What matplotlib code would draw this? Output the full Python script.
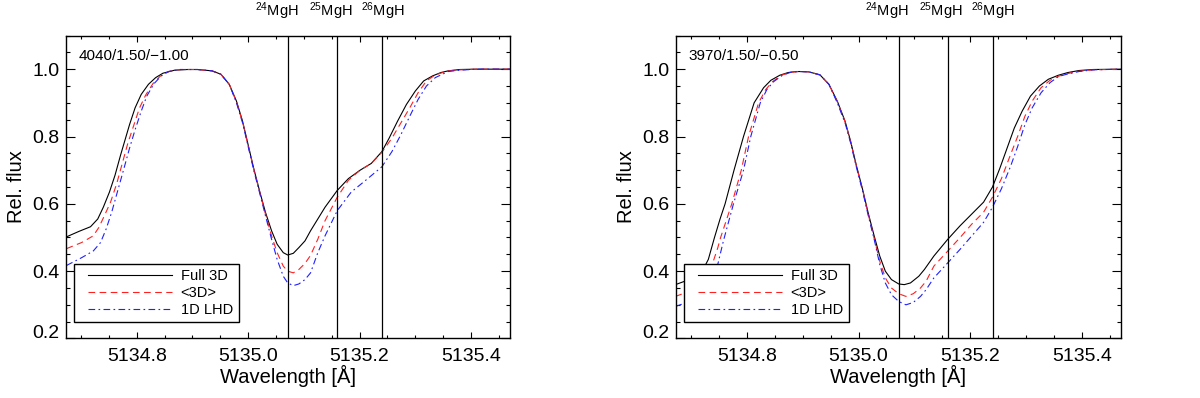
import matplotlib
matplotlib.use("Agg")
import matplotlib.pyplot as plt
from matplotlib.lines import Line2D
from matplotlib.legend_handler import HandlerLine2D
from matplotlib.ticker import MultipleLocator

plt.rcParams['font.family'] = ['Liberation Sans', 'DejaVu Sans']
plt.rcParams['mathtext.fontset'] = 'custom'
plt.rcParams['mathtext.rm'] = 'Liberation Sans'
plt.rcParams['mathtext.it'] = 'Liberation Sans'

# ---------------- data ----------------
panel_labels = ["4040/1.50/\u22121.00", "3970/1.50/\u22120.50"]
series_names = ["Full 3D", "<3D>", "1D LHD"]
line_positions = [5135.072, 5135.160, 5135.240]
line_names = [r"$^{24}$MgH", r"$^{25}$MgH", r"$^{26}$MgH"]
x_ticks = [5134.8, 5135.0, 5135.2, 5135.4]
y_ticks = [0.2, 0.4, 0.6, 0.8, 1.0]

# left panel
wl_a_full = [5134.674, 5134.696, 5134.717, 5134.730, 5134.740, 5134.751, 5134.761, 5134.771, 5134.779,
             5134.787, 5134.797, 5134.808, 5134.821, 5134.834, 5134.847, 5134.868, 5134.891, 5134.909,
             5134.935, 5134.951, 5134.966, 5134.979, 5134.990, 5135.000, 5135.010, 5135.021, 5135.031,
             5135.042, 5135.052, 5135.063, 5135.071, 5135.081, 5135.091, 5135.102, 5135.112, 5135.125,
             5135.138, 5135.160, 5135.180, 5135.201, 5135.221, 5135.240, 5135.253, 5135.268, 5135.284,
             5135.300, 5135.315, 5135.331, 5135.346, 5135.359, 5135.380, 5135.410, 5135.470]
fl_a_full = [0.502, 0.518, 0.532, 0.555, 0.590, 0.635, 0.685, 0.745, 0.790,
             0.835, 0.885, 0.925, 0.955, 0.975, 0.988, 0.997, 0.999, 0.999,
             0.995, 0.985, 0.955, 0.905, 0.845, 0.775, 0.705, 0.635, 0.575,
             0.520, 0.480, 0.455, 0.448, 0.453, 0.470, 0.490, 0.520, 0.555,
             0.590, 0.640, 0.675, 0.700, 0.720, 0.755, 0.795, 0.845, 0.895,
             0.935, 0.965, 0.980, 0.990, 0.995, 0.999, 1.000, 1.000]

wl_a_mean = [5134.674, 5134.701, 5134.722, 5134.732, 5134.742, 5134.753, 5134.764, 5134.774, 5134.784,
             5134.795, 5134.805, 5134.816, 5134.829, 5134.842, 5134.857, 5134.878, 5134.891, 5134.909,
             5134.935, 5134.951, 5134.966, 5134.979, 5134.990, 5135.000, 5135.010, 5135.021, 5135.031,
             5135.042, 5135.052, 5135.063, 5135.071, 5135.081, 5135.091, 5135.102, 5135.112, 5135.125,
             5135.138, 5135.160, 5135.180, 5135.201, 5135.221, 5135.240, 5135.258, 5135.274, 5135.290,
             5135.305, 5135.320, 5135.336, 5135.359, 5135.380, 5135.410, 5135.470]
fl_a_mean = [0.467, 0.485, 0.505, 0.530, 0.565, 0.605, 0.660, 0.720, 0.780,
             0.835, 0.885, 0.923, 0.957, 0.979, 0.993, 0.999, 0.999, 0.999,
             0.995, 0.985, 0.955, 0.903, 0.843, 0.773, 0.703, 0.633, 0.570,
             0.505, 0.455, 0.415, 0.400, 0.395, 0.405, 0.423, 0.447, 0.495,
             0.550, 0.620, 0.670, 0.700, 0.720, 0.753, 0.795, 0.840, 0.885,
             0.930, 0.965, 0.983, 0.995, 0.998, 1.000, 1.000]

wl_a_1d = [5134.674, 5134.701, 5134.722, 5134.735, 5134.745, 5134.755, 5134.766, 5134.777, 5134.787,
           5134.797, 5134.808, 5134.818, 5134.831, 5134.844, 5134.857, 5134.878, 5134.891, 5134.909,
           5134.935, 5134.951, 5134.966, 5134.979, 5134.990, 5135.000, 5135.010, 5135.021, 5135.031,
           5135.042, 5135.052, 5135.063, 5135.071, 5135.081, 5135.091, 5135.102, 5135.112, 5135.125,
           5135.138, 5135.160, 5135.185, 5135.211, 5135.240, 5135.258, 5135.274, 5135.290, 5135.305,
           5135.320, 5135.336, 5135.359, 5135.380, 5135.410, 5135.470]
fl_a_1d = [0.417, 0.440, 0.460, 0.485, 0.525, 0.575, 0.640, 0.705, 0.765,
           0.820, 0.875, 0.920, 0.957, 0.980, 0.993, 0.999, 0.999, 0.999,
           0.995, 0.985, 0.955, 0.900, 0.840, 0.770, 0.700, 0.630, 0.565,
           0.495, 0.435, 0.385, 0.365, 0.357, 0.362, 0.375, 0.395, 0.455,
           0.505, 0.580, 0.635, 0.670, 0.710, 0.755, 0.805, 0.860, 0.910,
           0.950, 0.975, 0.993, 0.997, 1.000, 1.000]

# right panel
wl_b_full = [5134.672, 5134.692, 5134.710, 5134.721, 5134.731, 5134.742, 5134.752, 5134.761, 5134.777,
             5134.794, 5134.813, 5134.830, 5134.843, 5134.859, 5134.874, 5134.888, 5134.895, 5134.911,
             5134.931, 5134.947, 5134.962, 5134.976, 5134.986, 5134.996, 5135.007, 5135.017, 5135.028,
             5135.038, 5135.048, 5135.059, 5135.072, 5135.082, 5135.093, 5135.108, 5135.118, 5135.135,
             5135.160, 5135.182, 5135.203, 5135.224, 5135.240, 5135.253, 5135.266, 5135.279, 5135.293,
             5135.308, 5135.324, 5135.340, 5135.358, 5135.375, 5135.395, 5135.420, 5135.470]
fl_b_full = [0.360, 0.372, 0.385, 0.403, 0.435, 0.500, 0.555, 0.600, 0.700,
             0.800, 0.900, 0.945, 0.967, 0.982, 0.990, 0.993, 0.993, 0.992,
             0.983, 0.955, 0.905, 0.845, 0.785, 0.715, 0.645, 0.575, 0.505,
             0.445, 0.400, 0.375, 0.362, 0.360, 0.365, 0.385, 0.405, 0.445,
             0.495, 0.535, 0.570, 0.605, 0.650, 0.705, 0.765, 0.825, 0.875,
             0.920, 0.950, 0.970, 0.982, 0.990, 0.996, 0.999, 1.000]

wl_b_mean = [5134.672, 5134.697, 5134.713, 5134.726, 5134.737, 5134.748, 5134.753, 5134.773, 5134.790,
             5134.803, 5134.821, 5134.834, 5134.846, 5134.862, 5134.878, 5134.895, 5134.911, 5134.931,
             5134.947, 5134.962, 5134.976, 5134.986, 5134.996, 5135.007, 5135.017, 5135.028, 5135.038,
             5135.048, 5135.059, 5135.072, 5135.085, 5135.098, 5135.111, 5135.121, 5135.135, 5135.160,
             5135.182, 5135.203, 5135.224, 5135.240, 5135.256, 5135.272, 5135.285, 5135.298, 5135.311,
             5135.327, 5135.343, 5135.358, 5135.375, 5135.395, 5135.420, 5135.470]
fl_b_mean = [0.325, 0.340, 0.355, 0.380, 0.415, 0.470, 0.500, 0.600, 0.700,
             0.800, 0.900, 0.940, 0.963, 0.982, 0.991, 0.993, 0.992, 0.983,
             0.955, 0.903, 0.843, 0.783, 0.713, 0.643, 0.572, 0.497, 0.430,
             0.380, 0.350, 0.333, 0.325, 0.333, 0.350, 0.370, 0.415, 0.460,
             0.500, 0.540, 0.575, 0.620, 0.675, 0.745, 0.800, 0.860, 0.905,
             0.945, 0.967, 0.979, 0.987, 0.994, 0.998, 1.000]

wl_b_1d = [5134.672, 5134.697, 5134.718, 5134.734, 5134.745, 5134.758, 5134.776, 5134.794, 5134.807,
           5134.824, 5134.836, 5134.848, 5134.864, 5134.879, 5134.895, 5134.911, 5134.931, 5134.947,
           5134.962, 5134.976, 5134.986, 5134.996, 5135.007, 5135.017, 5135.028, 5135.038, 5135.048,
           5135.059, 5135.072, 5135.085, 5135.098, 5135.111, 5135.121, 5135.135, 5135.160, 5135.182,
           5135.203, 5135.224, 5135.240, 5135.256, 5135.272, 5135.285, 5135.298, 5135.311, 5135.327,
           5135.343, 5135.358, 5135.375, 5135.395, 5135.420, 5135.470]
fl_b_1d = [0.295, 0.310, 0.330, 0.360, 0.400, 0.490, 0.600, 0.700, 0.800,
           0.900, 0.940, 0.963, 0.982, 0.991, 0.993, 0.992, 0.983, 0.955,
           0.900, 0.840, 0.780, 0.710, 0.640, 0.568, 0.495, 0.420, 0.365,
           0.330, 0.310, 0.300, 0.307, 0.325, 0.345, 0.380, 0.425, 0.465,
           0.505, 0.545, 0.590, 0.645, 0.710, 0.770, 0.835, 0.885, 0.930,
           0.960, 0.978, 0.986, 0.993, 0.998, 1.000]

panels = [
    [(wl_a_full, fl_a_full), (wl_a_mean, fl_a_mean), (wl_a_1d, fl_a_1d)],
    [(wl_b_full, fl_b_full), (wl_b_mean, fl_b_mean), (wl_b_1d, fl_b_1d)],
]

# ---------------- styling ----------------
styles = [
    dict(color='black', lw=0.8, ls='-'),
    dict(color='#ff2020', lw=0.8, ls=(0, (6, 4))),
    dict(color='#2020ff', lw=0.8, ls=(0, (6, 3, 1.5, 3))),
]

fig = plt.figure(figsize=(12, 3.98), dpi=100)
ax_rects = [[0.0550, 0.1495, 0.3700, 0.7613], [0.5633, 0.1495, 0.3708, 0.7613]]

for rect, data, plabel in zip(ax_rects, panels, panel_labels):
    ax = fig.add_axes(rect)
    handles = []
    for (wl, fl), st, name in zip(data, styles, series_names):
        h, = ax.plot(wl, fl, label=name, **st)
        handles.append(h)
    for lp in line_positions:
        ax.axvline(lp, color='black', lw=0.9)
    ax.set_xlim(5134.673, 5135.470)
    ax.set_ylim(0.2, 1.1)
    ax.set_xticks(x_ticks)
    ax.set_xticklabels([f"{v:.1f}" for v in x_ticks])
    ax.set_yticks(y_ticks)
    ax.set_yticklabels([f"{v:.1f}" for v in y_ticks])
    ax.xaxis.set_minor_locator(MultipleLocator(0.05))
    ax.yaxis.set_minor_locator(MultipleLocator(0.05))
    ax.tick_params(axis='both', which='both', direction='in', top=True, right=True,
                   labelsize=14, width=0.8, color='black')
    ax.tick_params(axis='x', which='major', length=4.5, pad=7)
    ax.tick_params(axis='x', which='minor', length=2.3)
    ax.tick_params(axis='y', which='major', length=6.5, pad=4.5)
    ax.tick_params(axis='y', which='minor', length=3.2)
    ax.get_yticklabels()[0].set_va('baseline')
    for sp in ax.spines.values():
        sp.set_linewidth(1.0)
    ax.set_xlabel("Wavelength [\u00c5]", fontsize=14.5, labelpad=0)
    ax.set_ylabel("Rel. flux", fontsize=14.5, labelpad=5)
    ax.text(0.029, 0.919, plabel, transform=ax.transAxes, fontsize=11,
            ha='left', va='baseline')
    for lp, nm, dx in zip(line_positions, line_names, [-8.3, -4.8, 0.5]):
        ax.annotate(nm, xy=(lp, 1.066), xycoords=ax.get_xaxis_transform(),
                    xytext=(dx, 0), textcoords='offset points',
                    ha='center', va='baseline', fontsize=10.5, annotation_clip=False)
    leg = ax.legend(handles=handles, loc='lower left', bbox_to_anchor=(0.018, 0.053),
                    borderaxespad=0, fontsize=10.5, handlelength=6.3, handletextpad=0.62,
                    borderpad=0.4, labelspacing=0.18, fancybox=False, framealpha=1,
                    edgecolor='black',
                    handler_map={Line2D: HandlerLine2D(xpad=0.56)})
    leg.get_frame().set_linewidth(1.0)

fig.savefig("out.png", dpi=100)
